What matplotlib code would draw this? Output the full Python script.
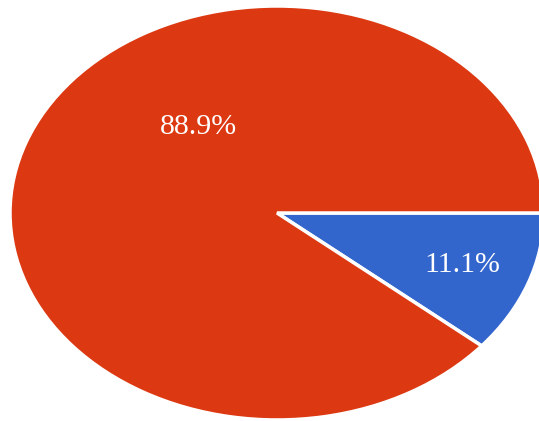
import matplotlib.pyplot as plt

# share of answers
labels = ['Yes', 'No']
shares = [11.1, 88.9]
colors = ['#3366CC', '#DC3912']

fig = plt.figure(figsize=(5.39, 4.21), dpi=100)
ax = fig.add_axes([0, 0, 1, 1])

wedges, texts, pcts = ax.pie(shares, colors=colors, startangle=0, counterclock=False,
                             autopct='%.1f%%', pctdistance=0.74,
                             wedgeprops=dict(edgecolor='white', linewidth=2.5),
                             textprops=dict(color='white', fontsize=21.5,
                                            family='Liberation Serif'))
# big slice label sits up-left rather than at the middle angle
pcts[1].set_position((-0.296, 0.415))

# stretch the pie into an ellipse, slightly cut on the right
ax.set_aspect('auto')
ax.set_xlim(-1.0375, 0.981)
ax.set_ylim(-1.005, 1.029)
ax.axis('off')

fig.savefig('out.png', dpi=100)
